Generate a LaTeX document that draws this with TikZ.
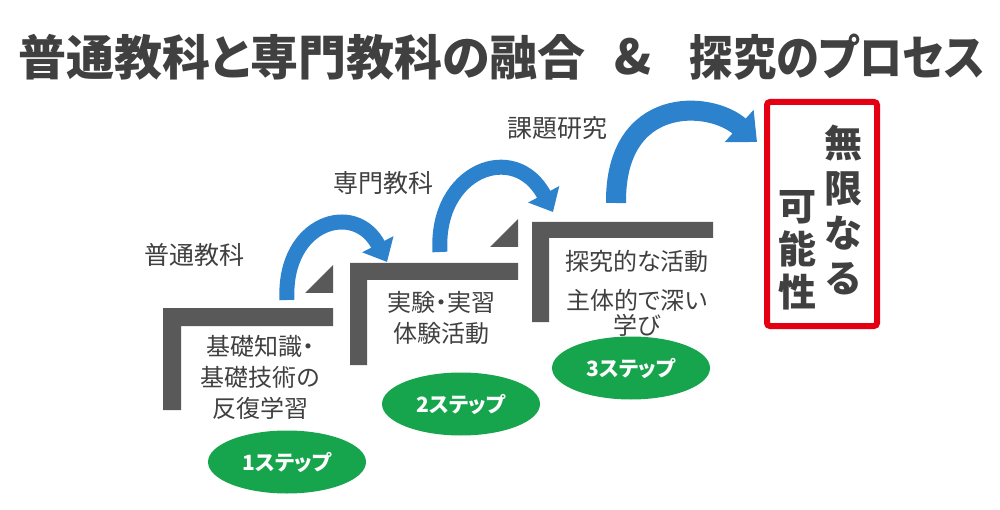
\documentclass[tikz,border=0pt]{standalone}
\usepackage{fontspec}
\usepackage{xcolor}
\usepackage{graphicx}
\usetikzlibrary{shapes,arrows.meta,positioning,calc}

\newfontfamily\jpfont{Noto Sans CJK JP}
\newfontfamily\jppalt[RawFeature=+palt]{Noto Sans CJK JP}

\definecolor{textgray}{RGB}{64,64,64}
\definecolor{stepgray}{RGB}{89,89,89}
\definecolor{arrowblue}{RGB}{45,130,205}
\definecolor{stepgreen}{RGB}{22,165,76}
\definecolor{boxred}{RGB}{228,0,18}

\tikzset{
  titletext/.style={inner sep=0pt,text=textgray,font=\jppalt\bfseries\fontsize{48}{52}\selectfont},
  subjtext/.style={inner sep=0pt,text=textgray,font=\jpfont\fontsize{25}{28}\selectfont},
  steptext/.style={inner sep=0pt,text=textgray,align=center,font=\jppalt\fontsize{24}{31}\selectfont},
  stepoval/.style={ellipse,fill=stepgreen,text=white,inner sep=0pt,
    minimum width=158pt,minimum height=63pt,font=\jppalt\bfseries\fontsize{21}{24}\selectfont},
  bluearrow/.style={draw=arrowblue,line width=15pt,
    -{Triangle[width=34pt,length=20pt,fill=arrowblue]}},
  stairstep/.style={fill=stepgray},
}

\begin{document}
\begin{tikzpicture}[x=1pt,y=1pt]
    \useasboundingbox (0,0) rectangle (1000,-510);

    % Title
    \node[titletext,anchor=west] (title1) at (18,-57) {普通教科と専門教科の融合};
    \node[titletext] (amp) at (633,-57) {\&};
    \node[titletext,anchor=east] (title2) at (985,-57) {\scalebox{0.9}[1]{探究のプロセス}};

    % Stairs
    \fill[stairstep] (163,-308) -- (333,-308) -- (333,-326) -- (181,-326) -- (181,-410) -- (163,-410) -- cycle;
    \fill[stairstep] (350,-263) -- (518,-263) -- (518,-280) -- (367,-280) -- (367,-365) -- (350,-365) -- cycle;
    \fill[stairstep] (532,-222) -- (713,-222) -- (713,-238) -- (549,-238) -- (549,-322) -- (532,-322) -- cycle;
    \fill[stairstep] (305,-293) -- (333,-265) -- (333,-293) -- cycle;
    \fill[stairstep] (490,-247) -- (518,-219) -- (518,-247) -- cycle;

    % Subjects
    \node[subjtext] (futsu) at (194,-255) {普通教科};
    \node[subjtext] (senmon) at (383,-183) {専門教科};
    \node[subjtext] (kadai) at (557,-128) {課題研究};

    % Contents of each step
    \node[steptext] (kiso) at (260,-377) {基礎知識・\\基礎技術の\\反復学習};
    \node[steptext] (jikken) at (441,-318) {実験・実習\\体験活動};
    \node[steptext] (tankyu) at (637,-261) {探究的な活動};
    \node[steptext,font=\jppalt\fontsize{24}{25}\selectfont] (shutai) at (637,-313) {主体的で深い\\学び};

    % Step labels
    \node[stepoval] (step1) at (287,-462) {1ステップ};
    \node[stepoval] (step2) at (461,-404) {2ステップ};
    \node[stepoval] (step3) at (631,-368) {3ステップ};

    % Goal
    \node[draw=boxred,line width=6pt,rounded corners=3pt,minimum width=110pt,minimum height=224pt] (goal) at (822,-214) {};
    \node[inner sep=0pt,text=textgray,align=center,font=\jpfont\bfseries\fontsize{38}{45}\selectfont] (mugen) at (843,-210) {無\\限\\な\\る};
    \node[inner sep=0pt,text=textgray,align=center,font=\jpfont\bfseries\fontsize{38}{43}\selectfont] (kanou) at (797,-250) {可\\能\\性};

    % Arrows
    \coordinate (a1s) at (287,-300);
    \coordinate (a1e) at (387,-262);
    \coordinate (a2s) at (440,-252);
    \coordinate (a2e) at (553,-212);
    \coordinate (a3s) at (616,-203);
    \coordinate (a3e) at (757,-142);
    \draw[bluearrow] (a1s) .. controls (283,-222) and (355,-200) .. (a1e);
    \draw[bluearrow] (a2s) .. controls (435,-170) and (515,-140) .. (a2e);
    \draw[bluearrow,line width=20pt,-{Triangle[width=42pt,length=24pt,fill=arrowblue]}] (a3s) .. controls (615,-95) and (710,-100) .. (a3e);
\end{tikzpicture}
\end{document}
